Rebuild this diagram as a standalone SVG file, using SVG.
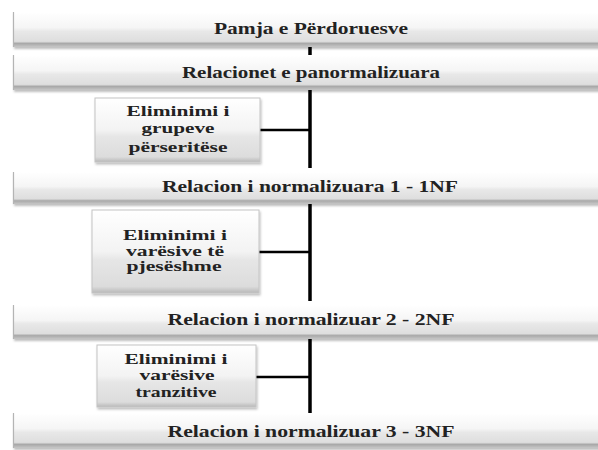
<svg xmlns="http://www.w3.org/2000/svg" width="598" height="450" viewBox="0 0 598 450">
  <style>
    .bar { fill: url(#barFill); filter: url(#soft); }
    .edge { stroke: #b4b4b4; stroke-width: 1.2; fill: none; }
    .box { fill: url(#boxFill); stroke: #c4c4c4; stroke-width: 1; filter: url(#soft); }
    .t { font-family: "Liberation Serif", "Times New Roman", serif; font-weight: bold; fill: #222; text-anchor: middle; }
    .tb { font-size: 16px; }
    .tx { font-size: 15px; }
    .wire { stroke: #000; fill: none; }
    .v { stroke-width: 3.5; }
    .h { stroke-width: 2.5; }
  </style>
  <defs>
    <linearGradient id="barFill" x1="0" y1="0" x2="0" y2="1">
      <stop offset="0" stop-color="#ffffff"/>
      <stop offset="0.45" stop-color="#f5f5f5"/>
      <stop offset="0.55" stop-color="#e8e8e8"/>
      <stop offset="0.84" stop-color="#dedede"/>
      <stop offset="0.9" stop-color="#a9a9a9"/>
      <stop offset="1" stop-color="#c6c6c6"/>
    </linearGradient>
    <linearGradient id="boxFill" x1="0" y1="0" x2="0" y2="1">
      <stop offset="0" stop-color="#ffffff"/>
      <stop offset="0.5" stop-color="#f3f3f3"/>
      <stop offset="0.6" stop-color="#e6e6e6"/>
      <stop offset="0.92" stop-color="#dcdcdc"/>
      <stop offset="1" stop-color="#b8b8b8"/>
    </linearGradient>
    <filter id="soft" x="-5%" y="-20%" width="110%" height="150%">
      <feDropShadow dx="1" dy="2" stdDeviation="1.2" flood-color="#000" flood-opacity="0.25"/>
    </filter>
  </defs>

  <rect width="598" height="450" fill="#ffffff"/>

  <!-- connectors -->
  <g id="connectors">
    <line class="wire v" x1="310" y1="47" x2="310" y2="55"/>
    <line class="wire v" x1="310" y1="90" x2="310" y2="168"/>
    <line class="wire h" x1="260" y1="130" x2="310" y2="130"/>
    <line class="wire v" x1="310" y1="204" x2="310" y2="301"/>
    <line class="wire h" x1="259" y1="252" x2="310" y2="252"/>
    <line class="wire v" x1="310" y1="339" x2="310" y2="413"/>
    <line class="wire h" x1="256" y1="377" x2="310" y2="377"/>
  </g>

  <!-- level bars -->
  <g id="pamja">
    <rect class="bar" x="13" y="12" width="600" height="35"/>
    <line class="edge" x1="13.5" y1="12" x2="13.5" y2="47"/>
    <text class="t tb" x="311" y="34" textLength="194" lengthAdjust="spacingAndGlyphs">Pamja e Përdoruesve</text>
  </g>
  <g id="panormalizuara">
    <rect class="bar" x="13" y="55" width="600" height="35"/>
    <line class="edge" x1="13.5" y1="55" x2="13.5" y2="90"/>
    <text class="t tb" x="311" y="78" textLength="258" lengthAdjust="spacingAndGlyphs">Relacionet e panormalizuara</text>
  </g>
  <g id="nf1">
    <rect class="bar" x="13" y="172" width="600" height="32"/>
    <line class="edge" x1="13.5" y1="172" x2="13.5" y2="204"/>
    <text class="t tb" x="310" y="192" textLength="296" lengthAdjust="spacingAndGlyphs">Relacion i normalizuara 1 - 1NF</text>
  </g>
  <g id="nf2">
    <rect class="bar" x="13" y="305" width="600" height="34"/>
    <line class="edge" x1="13.5" y1="305" x2="13.5" y2="339"/>
    <text class="t tb" x="311" y="325" textLength="287" lengthAdjust="spacingAndGlyphs">Relacion i normalizuar 2 - 2NF</text>
  </g>
  <g id="nf3">
    <rect class="bar" x="13" y="413" width="600" height="35"/>
    <line class="edge" x1="13.5" y1="413" x2="13.5" y2="448"/>
    <text class="t tb" x="311" y="437" textLength="287" lengthAdjust="spacingAndGlyphs">Relacion i normalizuar 3 - 3NF</text>
  </g>

  <!-- step boxes -->
  <g id="grupeve">
    <rect class="box" x="95" y="98" width="165" height="64"/>
    <text class="t tx" x="178" y="116" textLength="103" lengthAdjust="spacingAndGlyphs">Eliminimi i</text>
    <text class="t tx" x="178" y="133" textLength="73" lengthAdjust="spacingAndGlyphs">grupeve</text>
    <text class="t tx" x="178" y="152" textLength="99" lengthAdjust="spacingAndGlyphs">përseritëse</text>
  </g>
  <g id="pjeseshme">
    <rect class="box" x="92" y="210" width="167" height="83"/>
    <text class="t tx" x="175" y="240" textLength="104" lengthAdjust="spacingAndGlyphs">Eliminimi i</text>
    <text class="t tx" x="175" y="256" textLength="98" lengthAdjust="spacingAndGlyphs">varësive të</text>
    <text class="t tx" x="174" y="271" textLength="95" lengthAdjust="spacingAndGlyphs">pjesëshme</text>
  </g>
  <g id="tranzitive">
    <rect class="box" x="97" y="345" width="159" height="62"/>
    <text class="t tx" x="176" y="364" textLength="103" lengthAdjust="spacingAndGlyphs">Eliminimi i</text>
    <text class="t tx" x="177" y="380" textLength="75" lengthAdjust="spacingAndGlyphs">varësive</text>
    <text class="t tx" x="176" y="397" textLength="81" lengthAdjust="spacingAndGlyphs">tranzitive</text>
  </g>
</svg>
